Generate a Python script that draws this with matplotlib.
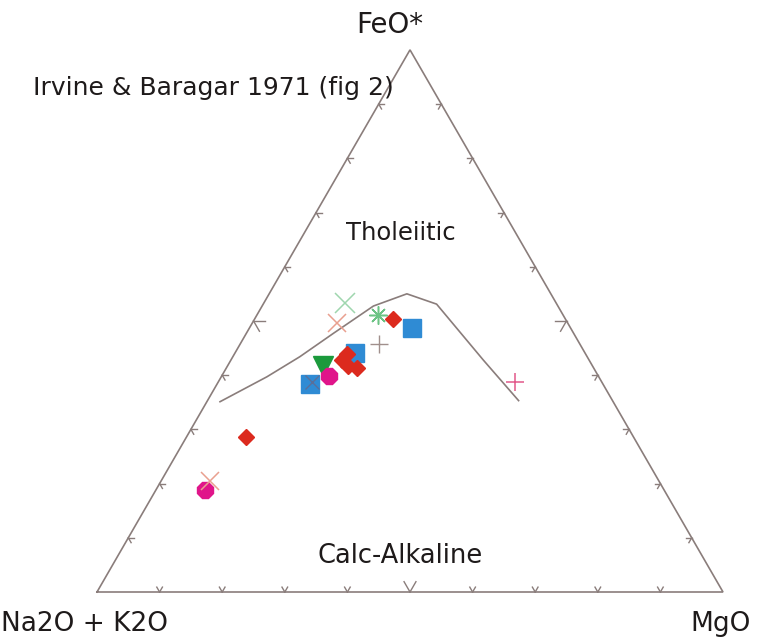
import numpy as np
import matplotlib
matplotlib.use("Agg")
import matplotlib.pyplot as plt

# ---- data (percent: Na2O+K2O = A, FeO* = F, MgO = M) ----
boundary_A = [62.8, 53.0, 45.9, 38.4, 29.5, 23.0, 19.2, 16.9, 15.0]
boundary_F = [35.1, 39.7, 43.4, 47.7, 52.8, 55.0, 53.1, 42.8, 35.3]
boundary_M = [2.1, 7.3, 10.7, 13.9, 17.8, 22.0, 27.7, 40.3, 49.7]

sq_A = [25.3, 36.7, 46.8]
sq_F = [48.7, 44.1, 38.4]
sq_M = [26.0, 19.2, 14.8]

tri_A = [43.0]
tri_F = [41.7]
tri_M = [15.3]

dia_A = [27.5, 38.1, 39.5, 39.0, 37.8, 61.9]
dia_F = [50.4, 43.9, 42.8, 41.7, 41.3, 28.6]
dia_M = [22.1, 18.0, 17.7, 19.3, 20.9, 9.5]

circ_A = [43.0, 73.3]
circ_F = [39.8, 18.8]
circ_M = [17.1, 7.8]

gx_A = [33.7]
gx_F = [53.3]
gx_M = [13.0]

sx_A = [36.9, 71.7]
sx_F = [49.6, 20.5]
sx_M = [13.5, 7.8]

bx_A = [46.3]
bx_F = [38.7]
bx_M = [15.0]

ast_A = [29.6]
ast_F = [51.1]
ast_M = [19.3]

gp_A = [32.1]
gp_F = [45.7]
gp_M = [22.2]

pp_A = [13.9]
pp_F = [38.7]
pp_M = [47.4]

tick_fracs = [0.1, 0.2, 0.3, 0.4, 0.5, 0.6, 0.7, 0.8, 0.9]

H = np.sqrt(3) / 2


def tern(A, F, M):
    A = np.asarray(A, float); F = np.asarray(F, float); M = np.asarray(M, float)
    s = A + F + M
    f = F / s
    m = M / s
    return m + f / 2, f * H


fig = plt.figure(figsize=(7.57, 6.40), dpi=100)
ax = fig.add_axes([0, 0, 1, 1])
sc = 626.0
ax.set_xlim(-97 / sc, (757 - 97) / sc)
ax.set_ylim(-(640 - 592) / sc, 592 / sc)
ax.axis("off")

edge = "#8a7d7b"
# triangle
tx, ty = tern([100, 0, 0, 100], [0, 0, 100, 0], [0, 100, 0, 0])
ax.plot(tx, ty, color=edge, lw=1.2, zorder=1, solid_joinstyle="miter")

# ticks
for f in tick_fracs:
    L = 0.019 if abs(f - 0.5) < 1e-6 else 0.009
    # bottom edge (F=0), point at M=f
    x0, y0 = tern([1 - f], [0], [f])
    for ang in (60, 120):
        a = np.radians(ang)
        ax.plot([x0[0], x0[0] + L * np.cos(a)], [y0[0], y0[0] + L * np.sin(a)],
                color=edge, lw=1.0, zorder=1)
    # left edge (M=0), F=f
    x0, y0 = tern([1 - f], [f], [0])
    for ang in (0, -60):
        a = np.radians(ang)
        ax.plot([x0[0], x0[0] + L * np.cos(a)], [y0[0], y0[0] + L * np.sin(a)],
                color=edge, lw=1.0, zorder=1)
    # right edge (A=0), F=f
    x0, y0 = tern([0], [f], [1 - f])
    for ang in (180, 240):
        a = np.radians(ang)
        ax.plot([x0[0], x0[0] + L * np.cos(a)], [y0[0], y0[0] + L * np.sin(a)],
                color=edge, lw=1.0, zorder=1)

# boundary
bx, by = tern(boundary_A, boundary_F, boundary_M)
ax.plot(bx, by, color="#8a7d7b", lw=1.2, zorder=2)

# points
x, y = tern(sq_A, sq_F, sq_M)
ax.plot(x, y, ls="none", marker="s", ms=13, color="#2f8bd4", mec="#2f8bd4", zorder=3)
x, y = tern(tri_A, tri_F, tri_M)
ax.plot(x, y, ls="none", marker="v", ms=14, color="#1b9a3c", zorder=4)
x, y = tern(dia_A, dia_F, dia_M)
ax.plot(x, y, ls="none", marker="D", ms=8.5, color="#dc2a1e", zorder=5)
x, y = tern(circ_A, circ_F, circ_M)
ax.plot(x, y, ls="none", marker="8", ms=12.5, color="#e0158a", zorder=6)
x, y = tern(gx_A, gx_F, gx_M)
ax.plot(x, y, ls="none", marker="x", ms=14, mew=1.1, color="#9fd6ae", zorder=7)
x, y = tern(sx_A, sx_F, sx_M)
ax.plot(x, y, ls="none", marker="x", ms=13, mew=1.1, color="#e9a08f", zorder=7)
x, y = tern(bx_A, bx_F, bx_M)
ax.plot(x, y, ls="none", marker="x", ms=10, mew=1.0, color="#5a6f9a", zorder=7)
x, y = tern(ast_A, ast_F, ast_M)
ax.plot(x, y, ls="none", marker=(8, 2, 0), ms=13, mew=1.1, color="#6cc384", zorder=7)
x, y = tern(gp_A, gp_F, gp_M)
ax.plot(x, y, ls="none", marker="+", ms=13, mew=1.0, color="#a08f8c", zorder=7)
x, y = tern(pp_A, pp_F, pp_M)
ax.plot(x, y, ls="none", marker="+", ms=13, mew=1.1, color="#e2588a", zorder=7)

# text
fam = "DejaVu Sans"
tc = "#1e1a1a"
px = lambda X: (X - 97) / sc
py = lambda Y: (592 - Y) / sc
ax.text(px(390), py(25), "FeO*", ha="center", va="center", fontsize=20, color=tc, family=fam)
ax.text(px(33), py(88), "Irvine & Baragar 1971 (fig 2)", ha="left", va="center",
        fontsize=18, color=tc, family=fam)
ax.text(px(401), py(233), "Tholeiitic", ha="center", va="center", fontsize=17.5, color=tc, family=fam)
ax.text(px(400), py(556), "Calc-Alkaline", ha="center", va="center", fontsize=18.5, color=tc, family=fam)
ax.text(px(1), py(624), "Na2O + K2O", ha="left", va="center", fontsize=19, color=tc, family=fam)
ax.text(px(690), py(624), "MgO", ha="left", va="center", fontsize=19, color=tc, family=fam)

fig.savefig("out.png", dpi=100, facecolor="white")
